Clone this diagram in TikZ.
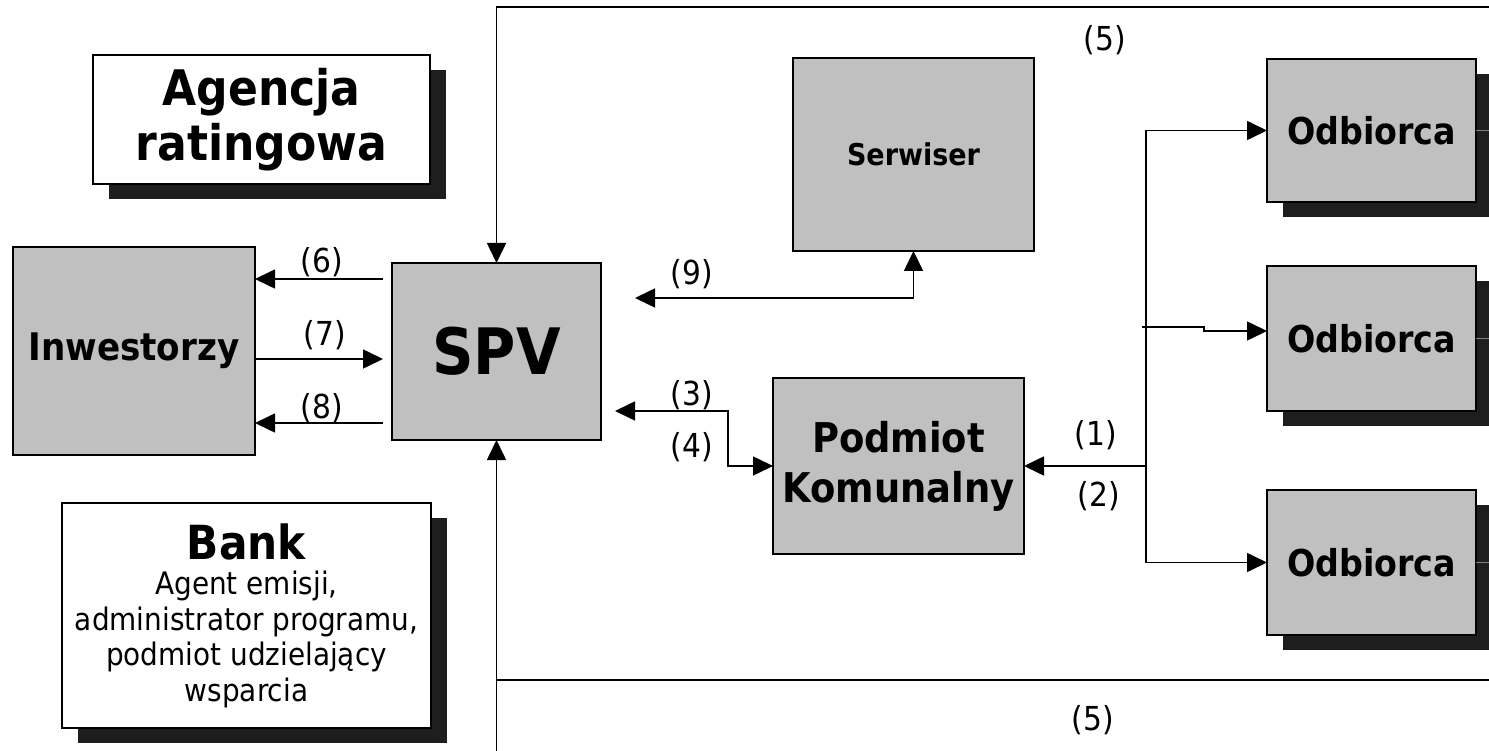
\documentclass[tikz,border=0pt]{standalone}
\usepackage{fontspec}
\setmainfont{DejaVu Sans}[FakeStretch=0.9]
\usetikzlibrary{arrows.meta,shadows}
\definecolor{boxgray}{HTML}{C0C0C0}
\definecolor{shadowc}{HTML}{1E1E1E}
\begin{document}
\begin{tikzpicture}[x=1pt,y=-1pt,
  >={Triangle[length=20pt,width=19pt]},
  box/.style={draw=black,line width=1.6pt,fill=boxgray,inner sep=0pt,outer sep=0pt,align=center},
  wbox/.style={box,fill=white},
  shadowed/.style={drop shadow={shadow xshift=16pt,shadow yshift=-15pt,fill=shadowc,opacity=1}},
  conn/.style={line width=1.6pt},
  sideline/.style={line width=1.2pt,draw=gray},
  lbl/.style={inner sep=0pt,font=\fontsize{33}{37}\selectfont}]
\useasboundingbox (0,0) rectangle (1489,751);
\clip (0,0) rectangle (1489,751);

% boxes
\node[wbox,shadowed,minimum width=337pt,minimum height=129pt,font=\bfseries\fontsize{49}{55}\selectfont] (agencja) at (261.5,119.5) {Agencja\\ratingowa};
\node[box,minimum width=242pt,minimum height=208pt,font=\bfseries\fontsize{38}{44}\selectfont] (inw) at (134,351) {Inwestorzy};
\node[box,minimum width=209pt,minimum height=177pt,font=\bfseries\fontsize{64}{70}\selectfont] (spv) at (496.5,351.5) {SPV};
\node[box,minimum width=241pt,minimum height=193pt,font=\bfseries\fontsize{30}{36}\selectfont] (serw) at (913.5,154.5) {Serwiser};
\node[box,minimum width=251pt,minimum height=176pt,font=\bfseries\fontsize{41}{50}\selectfont] (podm) at (898.5,466) {Podmiot\\Komunalny};
\node[wbox,shadowed,minimum width=369pt,minimum height=225pt,font=\fontsize{31}{35.5}\selectfont] (bank) at (246.5,615.5)
  {{\bfseries\fontsize{47}{35.5}\selectfont Bank}\\Agent emisji,\\administrator programu,\\podmiot udzielający\\wsparcia};
\node[box,shadowed,minimum width=209pt,minimum height=143pt,font=\bfseries\fontsize{37}{44}\selectfont] (odb1) at (1371.5,130.5) {Odbiorca};
\node[box,shadowed,minimum width=209pt,minimum height=145pt,font=\bfseries\fontsize{37}{44}\selectfont] (odb2) at (1371.5,338.5) {Odbiorca};
\node[box,shadowed,minimum width=209pt,minimum height=145pt,font=\bfseries\fontsize{37}{44}\selectfont] (odb3) at (1371.5,562.5) {Odbiorca};

% coordinates
\coordinate (rE) at (1489,0);
\coordinate (t5) at (1489,7);
\coordinate (b5) at (1489,680);
\coordinate (bot) at (496.5,751);
\coordinate (c6) at (383,279);
\coordinate (c7) at (383,359);
\coordinate (c8) at (383,423);
\coordinate (c9) at (635,298);
\coordinate (c3) at (615,411);
\coordinate (k34) at (728,411);
\coordinate (jb) at (1146,562.5);
\coordinate (j12) at (1146,466);
\coordinate (o2s) at (1142,327);
\coordinate (o2k) at (1204,327);

% outer loop (5)
\draw[conn,->] (t5) -| (spv.north);
\draw[conn,->] (bot) -- (spv.south);
\draw[conn] (spv.south |- b5) -- (b5);

% investors
\draw[conn,->] (c6) -- (inw.east |- c6);
\draw[conn,->] (inw.east |- c7) -- (c7);
\draw[conn,->] (c8) -- (inw.east |- c8);

% serwiser
\draw[conn,<->] (c9) -| (serw.south);

% podmiot
\draw[conn,<->] (c3) -- (k34) |- (podm.west);
\draw[conn,->] (j12) -- (podm.east);

% odbiorcy
\draw[conn,->] (jb) |- (odb1.west);
\draw[conn,->] (jb) -- (odb3.west);
\draw[conn,->] (o2s) -- (o2k) -- ([yshift=-4pt]o2k) -- ([yshift=7.5pt]odb2.west);

% lines to the right edge
\draw[sideline] (odb1.east) -- (odb1.east -| rE);
\draw[sideline] (odb2.east) -- (odb2.east -| rE);
\draw[sideline] (odb3.east) -- (odb3.east -| rE);

% labels
\node[lbl] (l5a) at (1105,40) {(5)};
\node[lbl] (l5b) at (1093,720) {(5)};
\node[lbl] (l6) at (322,262) {(6)};
\node[lbl] (l7) at (325,335) {(7)};
\node[lbl] (l8) at (322,408) {(8)};
\node[lbl] (l9) at (692,274) {(9)};
\node[lbl] (l3) at (692,395) {(3)};
\node[lbl] (l4) at (692,447) {(4)};
\node[lbl] (l1) at (1096,435) {(1)};
\node[lbl] (l2) at (1099,496) {(2)};
\end{tikzpicture}
\end{document}
